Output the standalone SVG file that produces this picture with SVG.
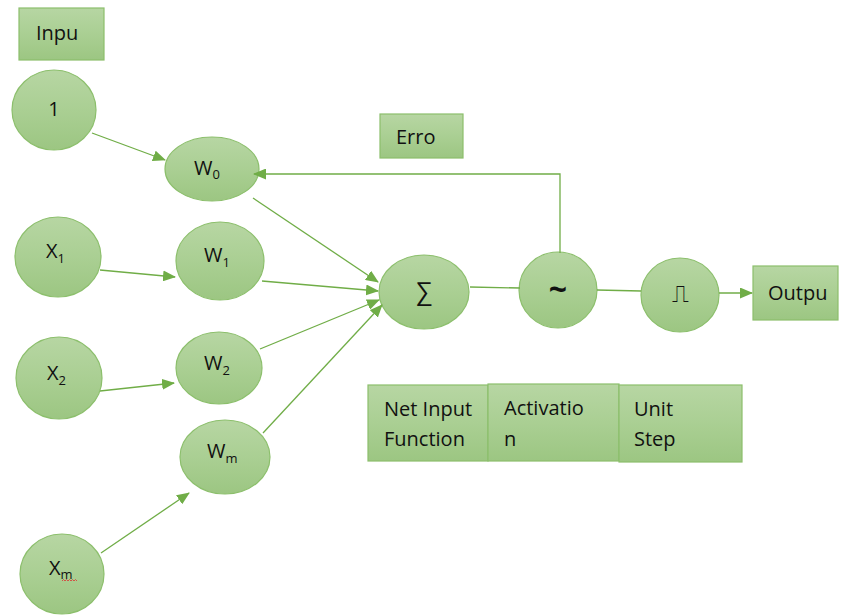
<svg xmlns="http://www.w3.org/2000/svg" width="845" height="615" viewBox="0 0 845 615">
<defs>
<linearGradient id="g" x1="0" y1="0" x2="0" y2="1">
<stop offset="0" stop-color="#b7d6a3"/>
<stop offset="0.5" stop-color="#aacf93"/>
<stop offset="1" stop-color="#9cc682"/>
</linearGradient>
<marker id="ar" markerWidth="13" markerHeight="11" refX="12" refY="5.5" orient="auto" markerUnits="userSpaceOnUse" viewBox="0 0 13 11">
<path d="M0,0 L13,5.5 L0,11 z" fill="#70ad47"/>
</marker>
<style>
.n{fill:url(#g);stroke:#8cbf6c;stroke-width:1.2}
.t{font-family:"Open Sans","Liberation Sans",sans-serif;font-size:20px;fill:#111}
.s{font-size:13px}
.c{fill:none;stroke:#70ad47;stroke-width:1.3}
</style>
</defs>
<rect width="845" height="615" fill="#fff"/>
<g id="inpu"><rect class="n" x="19" y="8" width="85" height="52"/><text class="t" x="36" y="40">Inpu</text></g>
<g id="n1"><ellipse class="n" cx="54" cy="110" rx="42" ry="40"/><text class="t" x="54" y="116" text-anchor="middle">1</text></g>
<g id="x1"><ellipse class="n" cx="58" cy="257" rx="43" ry="40"/><text class="t" x="46" y="258">X<tspan class="s" dy="5">1</tspan></text></g>
<g id="x2"><ellipse class="n" cx="59" cy="378" rx="43" ry="41"/><text class="t" x="47" y="380">X<tspan class="s" dy="5">2</tspan></text></g>
<g id="xm"><ellipse class="n" cx="62" cy="574" rx="42" ry="40"/><text class="t" x="49" y="575">X<tspan class="s" dy="4">m</tspan></text><path d="M62,581 l1.5,-1.5 l1.5,1.5 l1.5,-1.5 l1.5,1.5 l1.5,-1.5 l1.5,1.5 l1.5,-1.5 l1.5,1.5 l1.5,-1.5 l1.5,1.5" fill="none" stroke="#d33" stroke-width="0.8"/></g>
<g id="w0"><ellipse class="n" cx="212" cy="169" rx="47" ry="32"/><text class="t" x="194" y="175">W<tspan class="s" dy="4">0</tspan></text></g>
<g id="w1"><ellipse class="n" cx="220" cy="261" rx="44" ry="39"/><text class="t" x="204" y="262">W<tspan class="s" dy="5">1</tspan></text></g>
<g id="w2"><ellipse class="n" cx="219" cy="368" rx="43" ry="36"/><text class="t" x="204" y="370">W<tspan class="s" dy="5">2</tspan></text></g>
<g id="wm"><ellipse class="n" cx="225" cy="457" rx="45" ry="37"/><text class="t" x="207" y="458">W<tspan class="s" dy="5">m</tspan></text></g>
<g id="erro"><rect class="n" x="380" y="114" width="83" height="44"/><text class="t" x="396" y="144">Erro</text></g>
<g id="sum"><ellipse class="n" cx="424" cy="292" rx="45" ry="37"/><text class="t" x="424" y="300" text-anchor="middle" style="font-size:25px">∑</text></g>
<g id="act"><ellipse class="n" cx="558" cy="290" rx="39" ry="38"/><text class="t" x="558" y="301" text-anchor="middle" style="font-size:32px;font-weight:bold">~</text></g>
<g id="step"><ellipse class="n" cx="680" cy="295" rx="39" ry="37"/><text class="t" x="680" y="302" text-anchor="middle" style="font-family:'DejaVu Sans',sans-serif;font-size:24px">⎍</text></g>
<g id="outpu"><rect class="n" x="753" y="266" width="85" height="54"/><text class="t" x="768" y="300">Outpu</text></g>
<g id="netinput"><rect class="n" x="368" y="385" width="120" height="76"/><text class="t" x="384" y="416">Net Input</text><text class="t" x="384" y="446">Function</text></g>
<g id="activation"><rect class="n" x="488" y="384" width="131" height="77"/><text class="t" x="504" y="415">Activatio</text><text class="t" x="504" y="446">n</text></g>
<g id="unitstep"><rect class="n" x="619" y="385" width="123" height="77"/><text class="t" x="634" y="416">Unit</text><text class="t" x="634" y="446">Step</text></g>
<g id="connectors">
<line class="c" x1="92" y1="133" x2="165" y2="160" marker-end="url(#ar)"/>
<line class="c" x1="100" y1="270" x2="175" y2="277" marker-end="url(#ar)"/>
<line class="c" x1="100" y1="391" x2="174" y2="383" marker-end="url(#ar)"/>
<line class="c" x1="101" y1="553" x2="189" y2="493" marker-end="url(#ar)"/>
<line class="c" x1="253" y1="198" x2="378" y2="282" marker-end="url(#ar)"/>
<line class="c" x1="262" y1="281" x2="378" y2="291" marker-end="url(#ar)"/>
<line class="c" x1="260" y1="349" x2="379" y2="300" marker-end="url(#ar)"/>
<line class="c" x1="263" y1="433" x2="382" y2="305" marker-end="url(#ar)"/>
<line class="c" x1="470" y1="287" x2="520" y2="288"/>
<line class="c" x1="597" y1="290" x2="641" y2="291"/>
<line class="c" x1="719" y1="293" x2="752" y2="293" marker-end="url(#ar)"/>
<polyline class="c" points="560,253 560,174 254,174" marker-end="url(#ar)"/>
</g>
</svg>
